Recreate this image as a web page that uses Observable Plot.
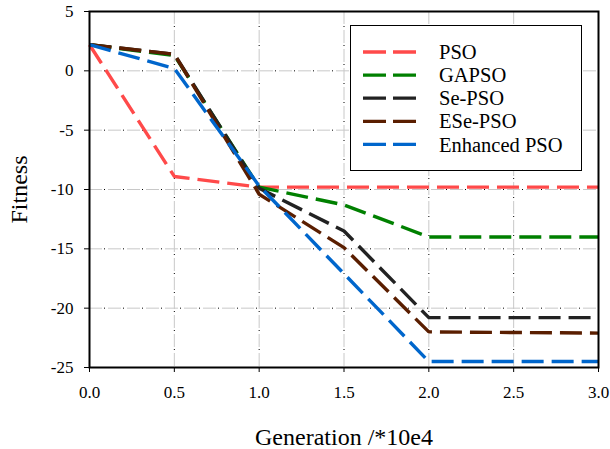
<!DOCTYPE html>
<html>
<head>
<meta charset="utf-8">
<script src="https://cdn.jsdelivr.net/npm/d3@7"></script>
<script src="https://cdn.jsdelivr.net/npm/@observablehq/plot@0.6"></script>
<style>
  html, body { margin: 0; padding: 0; background: #fff; }
  #chart { position: relative; width: 610px; height: 449px; }
  #chart svg, #chart svg text { font-family: "Liberation Serif", "Times New Roman", serif !important; }
</style>
</head>
<body>
<div id="chart"></div>
<script>
// ---- data ----
const generations = [0, 0.5, 1.0, 1.5, 2.0, 2.5, 3.0];
const seriesNames = ["PSO", "GAPSO", "Se-PSO", "ESe-PSO", "Enhanced PSO"];
const seriesColors = ["#ff4a4a", "#008000", "#222222", "#5a1e00", "#0066cc"];
const psoValues      = [2.2, -8.9, -9.8, -9.8, -9.8, -9.8, -9.8];
const gapsoValues    = [2.2, 1.3, -9.8, -11.3, -14.0, -14.0, -14.0];
const sePsoValues    = [2.2, 1.4, -9.9, -13.5, -20.8, -20.8, -20.8];
const esePsoValues   = [2.2, 1.4, -10.4, -14.9, -22.0, -22.05, -22.1];
const enhancedValues = [2.2, 0.2, -9.7, -17.1, -24.5, -24.5, -24.5];
const xTicks = [0, 0.5, 1.0, 1.5, 2.0, 2.5, 3.0];
const yTicks = [-25, -20, -15, -10, -5, 0, 5];
const xLabel = "Generation /*10e4";
const yLabel = "Fitness";

const allValues = [psoValues, gapsoValues, sePsoValues, esePsoValues, enhancedValues];
const rows = [];
seriesNames.forEach((name, i) => {
  generations.forEach((g, j) => rows.push({series: name, x: g, y: allValues[i][j]}));
});

const font = "Liberation Serif";
const innerX = xTicks.slice(1, -1);
const innerY = yTicks.slice(1, -1);

const plot = Plot.plot({
  width: 610,
  height: 449,
  marginLeft: 89,
  marginRight: 12,
  marginTop: 11,
  marginBottom: 82,
  style: {fontSize: "17px", color: "#000", background: "#fff"},
  x: {domain: [0, 3]},
  y: {domain: [-25, 5]},
  color: {domain: seriesNames, range: seriesColors},
  marks: [
    Plot.ruleX(innerX, {stroke: "#c8c8c8", strokeWidth: 1, strokeDasharray: "13,6"}),
    Plot.ruleY(innerY, {stroke: "#c8c8c8", strokeWidth: 1, strokeDasharray: "13,6"}),
    Plot.ruleX(innerX, {stroke: "#000", strokeWidth: 1, strokeDasharray: "1,18", strokeDashoffset: -15}),
    Plot.ruleY(innerY, {stroke: "#000", strokeWidth: 1, strokeDasharray: "1,18", strokeDashoffset: -15}),
    Plot.line(rows, {x: "x", y: "y", z: "series", stroke: "series", strokeWidth: 3.4,
      strokeDasharray: "22,8", strokeLinecap: "butt", strokeLinejoin: "round"}),
    Plot.axisX({ticks: xTicks, tickFormat: d => d.toFixed(1), tickSize: 5, tickPadding: 13,
      fontSize: 17, label: null, stroke: "#000"}),
    Plot.axisY({ticks: yTicks, tickFormat: d => String(d), tickSize: 5, tickPadding: 11,
      fontSize: 17, label: null, stroke: "#000"}),
    Plot.frame({stroke: "#000", strokeWidth: 2}),
    Plot.text([xLabel], {frameAnchor: "bottom", textAnchor: "middle", lineAnchor: "middle",
      dy: 70, fontSize: 24, fill: "#000"}),
    Plot.text([yLabel], {frameAnchor: "left", textAnchor: "middle", lineAnchor: "middle",
      dx: -70, rotate: -90, fontSize: 24, fill: "#000"})
  ]
});

document.getElementById("chart").appendChild(plot);

// ---- legend ----
const svg = d3.select(plot);
const lg = svg.append("g").attr("font-family", font).attr("text-anchor", "start");
lg.append("rect").attr("x", 350.5).attr("y", 25.5).attr("width", 231).attr("height", 145)
  .attr("fill", "#fff").attr("stroke", "#000").attr("stroke-width", 1);
seriesNames.forEach((name, i) => {
  const cy = 52 + i * 23.1;
  lg.append("line").attr("x1", 363).attr("x2", 416).attr("y1", cy).attr("y2", cy)
    .attr("stroke", seriesColors[i]).attr("stroke-width", 3.3).attr("stroke-dasharray", "23,7");
  lg.append("text").attr("x", 439).attr("y", cy).attr("dy", "0.35em")
    .attr("text-anchor", "start").attr("font-size", 20.5).attr("fill", "#000").text(name);
});
</script>
</body>
</html>
